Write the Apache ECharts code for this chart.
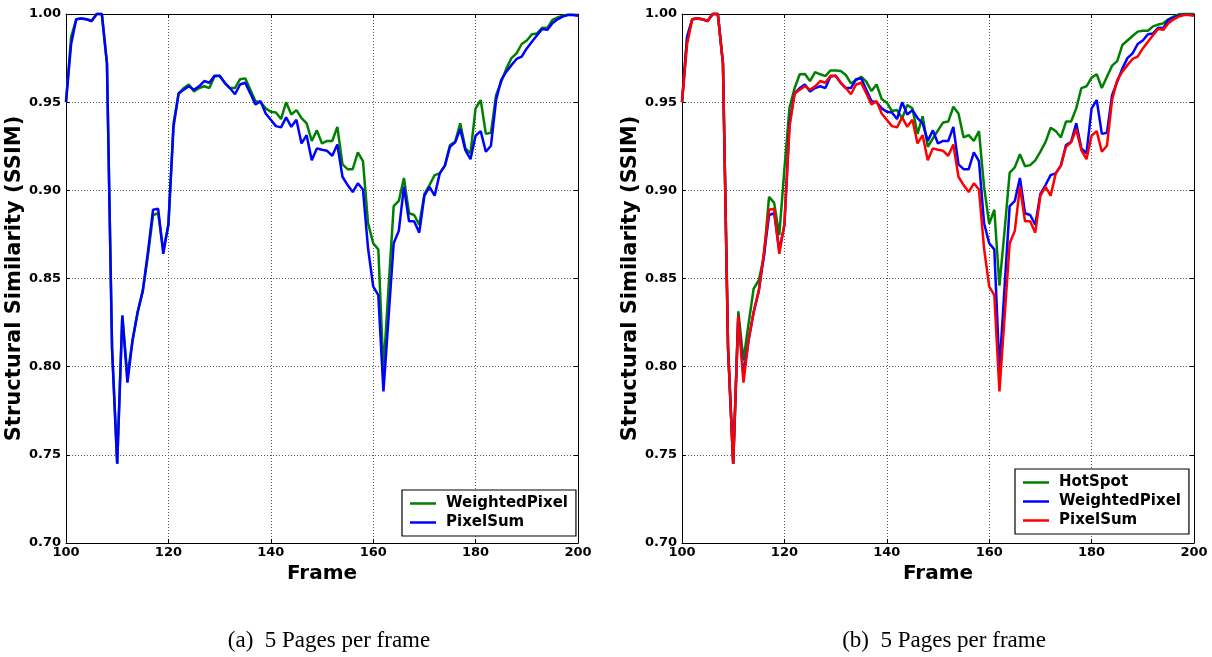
<!DOCTYPE html>
<html>
<head>
<meta charset="utf-8">
<title>SSIM per frame</title>
<script src="https://cdn.jsdelivr.net/npm/echarts@6/dist/echarts.min.js"></script>
<style>
  html, body { margin: 0; padding: 0; background: #fff; }
  #chart { width: 1212px; height: 657px; }
</style>
</head>
<body>
<div id="chart"></div>
<script>
// Frames run from 100 to 200, one sample per frame.
const firstFrame = 100;

const xTicks = [100, 120, 140, 160, 180, 200];
const yTicks = [0.70, 0.75, 0.80, 0.85, 0.90, 0.95, 1.00];

// SSIM per frame, frames 100..200
const hotSpot = [
  0.950, 0.987, 0.997, 0.9975, 0.997, 0.996, 1.000, 1.000, 0.972, 0.810,
  0.745, 0.8314, 0.8036, 0.8244, 0.8443, 0.849, 0.8623, 0.8963, 0.8929, 0.8746,
  0.912, 0.947, 0.958, 0.9658, 0.966, 0.962, 0.967, 0.9658, 0.9648, 0.968,
  0.968, 0.9677, 0.9654, 0.9607, 0.9625, 0.9644, 0.9616, 0.9563, 0.960, 0.9518,
  0.9497, 0.945, 0.9455, 0.9408, 0.9484, 0.9465, 0.932, 0.942, 0.9247, 0.9294,
  0.934, 0.9385, 0.939, 0.9474, 0.9436, 0.930, 0.9313, 0.928, 0.9336, 0.902,
  0.881, 0.889, 0.846, 0.877, 0.910, 0.913, 0.9205, 0.9137, 0.9143, 0.917,
  0.9219, 0.9273, 0.9355, 0.9336, 0.930, 0.939, 0.939, 0.9465, 0.958, 0.959,
  0.9639, 0.9658, 0.958, 0.9644, 0.9707, 0.9733, 0.9824, 0.985, 0.9875, 0.990,
  0.9905, 0.9905, 0.993, 0.994, 0.9947, 0.997, 0.9985, 0.9998, 1.000, 1.000,
  1.000
];

const weightedPixel = [
  0.950, 0.987, 0.997, 0.9975, 0.997, 0.996, 1.000, 1.000, 0.972, 0.810,
  0.745, 0.829, 0.795, 0.815, 0.831, 0.843, 0.863, 0.886, 0.887, 0.866,
  0.880, 0.938, 0.955, 0.958, 0.960, 0.956, 0.958, 0.959, 0.958, 0.9645,
  0.965, 0.961, 0.958, 0.958, 0.963, 0.9635, 0.957, 0.9506, 0.950, 0.9465,
  0.9446, 0.9442, 0.9404, 0.950, 0.943, 0.9455, 0.941, 0.938, 0.928, 0.934,
  0.9266, 0.928, 0.928, 0.936, 0.9147, 0.912, 0.912, 0.9215, 0.9166, 0.8813,
  0.870, 0.8665, 0.798, 0.845, 0.891, 0.894, 0.907, 0.887, 0.886, 0.8805,
  0.898, 0.903, 0.9086, 0.9096, 0.914, 0.9257, 0.9275, 0.938, 0.9238, 0.921,
  0.9465, 0.9512, 0.932, 0.9327, 0.954, 0.9616, 0.969, 0.975, 0.9777, 0.983,
  0.985, 0.9885, 0.989, 0.9922, 0.992, 0.9966, 0.998, 0.999, 0.9996, 0.9996,
  0.9995
];

const pixelSum = [
  0.950, 0.983, 0.997, 0.9975, 0.997, 0.996, 1.000, 1.000, 0.972, 0.810,
  0.745, 0.829, 0.791, 0.815, 0.831, 0.843, 0.865, 0.889, 0.8895, 0.864,
  0.881, 0.936, 0.955, 0.957, 0.959, 0.957, 0.959, 0.962, 0.961, 0.965,
  0.965, 0.961, 0.958, 0.9545, 0.960, 0.961, 0.955, 0.9487, 0.9506, 0.9436,
  0.940, 0.9364, 0.9357, 0.9414, 0.936, 0.940, 0.9266, 0.9313, 0.917, 0.9238,
  0.923, 0.9224, 0.9196, 0.926, 0.9077, 0.903, 0.899, 0.904, 0.9005, 0.867,
  0.8456, 0.8405, 0.786, 0.828, 0.870, 0.877, 0.902, 0.8825, 0.8825, 0.876,
  0.897, 0.902, 0.897, 0.9096, 0.914, 0.9247, 0.9272, 0.9347, 0.9228, 0.9177,
  0.931, 0.9336, 0.9219, 0.9253, 0.9512, 0.9625, 0.9673, 0.971, 0.9745, 0.9758,
  0.9805, 0.9843, 0.988, 0.9915, 0.991, 0.9947, 0.997, 0.9985, 0.9994, 0.9994,
  0.999
];

const GREEN = '#008000';
const BLUE = '#0000ff';
const RED = '#ff0000';
const FONT = 'DejaVu Sans';

function pairs(values) {
  return values.map((v, i) => [firstFrame + i, v]);
}

const grids = [
  { left: 66, top: 14, width: 512, height: 529 },
  { left: 682, top: 14, width: 512, height: 529 }
];

function bottomAxis(gi) {
  return {
    type: 'value', gridIndex: gi, position: 'bottom',
    min: xTicks[0], max: xTicks[xTicks.length - 1], interval: xTicks[1] - xTicks[0],
    name: 'Frame', nameLocation: 'middle', nameGap: 9,
    nameTextStyle: { fontFamily: FONT, fontWeight: 'bold', fontSize: 20, color: '#000', verticalAlign: 'top' },
    axisLine: { show: true, lineStyle: { color: '#000', width: 1 } },
    axisTick: { show: true, inside: true, length: 4, lineStyle: { color: '#000' } },
    axisLabel: { fontFamily: FONT, fontWeight: 'bold', fontSize: 13, color: '#000', margin: 3 },
    splitLine: { show: true, lineStyle: { color: '#555', type: [1, 2], width: 1 } }
  };
}

function topAxis(gi) {
  return {
    type: 'value', gridIndex: gi, position: 'top',
    min: xTicks[0], max: xTicks[xTicks.length - 1], interval: xTicks[1] - xTicks[0],
    axisLine: { show: true, lineStyle: { color: '#000', width: 1 } },
    axisTick: { show: true, inside: true, length: 4, lineStyle: { color: '#000' } },
    axisLabel: { show: false },
    splitLine: { show: false }
  };
}

function leftAxis(gi) {
  return {
    type: 'value', gridIndex: gi, position: 'left',
    min: yTicks[0], max: yTicks[yTicks.length - 1], interval: 0.05,
    name: 'Structural Similarity (SSIM)', nameLocation: 'middle', nameGap: 37,
    nameTextStyle: { fontFamily: FONT, fontWeight: 'bold', fontSize: 21, color: '#000' },
    axisLine: { show: true, lineStyle: { color: '#000', width: 1 } },
    axisTick: { show: true, inside: true, length: 4, lineStyle: { color: '#000' } },
    axisLabel: { fontFamily: FONT, fontWeight: 'bold', fontSize: 13, color: '#000', margin: 5,
      formatter: v => v.toFixed(2) },
    splitLine: { show: true, lineStyle: { color: '#555', type: [1, 2], width: 1 } }
  };
}

function rightAxis(gi) {
  return {
    type: 'value', gridIndex: gi, position: 'right',
    min: yTicks[0], max: yTicks[yTicks.length - 1], interval: 0.05,
    axisLine: { show: true, lineStyle: { color: '#000', width: 1 } },
    axisTick: { show: true, inside: true, length: 4, lineStyle: { color: '#000' } },
    axisLabel: { show: false },
    splitLine: { show: false }
  };
}

function line(id, values, color, xi, yi) {
  return {
    name: id, type: 'line', xAxisIndex: xi, yAxisIndex: yi,
    data: pairs(values), symbol: 'none', showSymbol: false, clip: false,
    lineStyle: { color: color, width: 2.5 }, itemStyle: { color: color },
    emphasis: { disabled: true }, animation: false
  };
}

// Legend keys are short solid strokes, no markers
const legendBase = {
  orient: 'vertical', icon: 'rect',
  itemWidth: 26, itemHeight: 2.5, itemGap: 4,
  backgroundColor: '#fff', borderColor: '#000', borderWidth: 1.2, borderRadius: 0,
  padding: [6, 8, 6, 8],
  selectedMode: false,
  formatter: name => name.split('|')[1],
  textStyle: { fontFamily: FONT, fontWeight: 'bold', fontSize: 15, color: '#000', padding: [0, 0, 0, 5] }
};

const chart = echarts.init(document.getElementById('chart'), null, { renderer: 'canvas' });
chart.setOption({
  animation: false,
  backgroundColor: '#fff',
  title: [
    { text: '(a)  5 Pages per frame', left: 324, top: 624, textAlign: 'center',
      textStyle: { fontFamily: 'Liberation Serif', fontWeight: 'normal', fontSize: 23, color: '#000' } },
    { text: '(b)  5 Pages per frame', left: 939, top: 624, textAlign: 'center',
      textStyle: { fontFamily: 'Liberation Serif', fontWeight: 'normal', fontSize: 23, color: '#000' } }
  ],
  grid: grids.map(g => Object.assign({ show: false }, g)),
  xAxis: [bottomAxis(0), bottomAxis(1), topAxis(0), topAxis(1)],
  yAxis: [leftAxis(0), leftAxis(1), rightAxis(0), rightAxis(1)],
  legend: [
    Object.assign({}, legendBase, { left: 402, top: 490, data: ['a|WeightedPixel', 'a|PixelSum'] }),
    Object.assign({}, legendBase, { left: 1015, top: 469, data: ['b|HotSpot', 'b|WeightedPixel', 'b|PixelSum'] })
  ],
  series: [
    line('a|WeightedPixel', weightedPixel, GREEN, 0, 0),
    line('a|PixelSum', pixelSum, BLUE, 0, 0),
    line('b|HotSpot', hotSpot, GREEN, 1, 1),
    line('b|WeightedPixel', weightedPixel, BLUE, 1, 1),
    line('b|PixelSum', pixelSum, RED, 1, 1)
  ]
});
</script>
</body>
</html>
